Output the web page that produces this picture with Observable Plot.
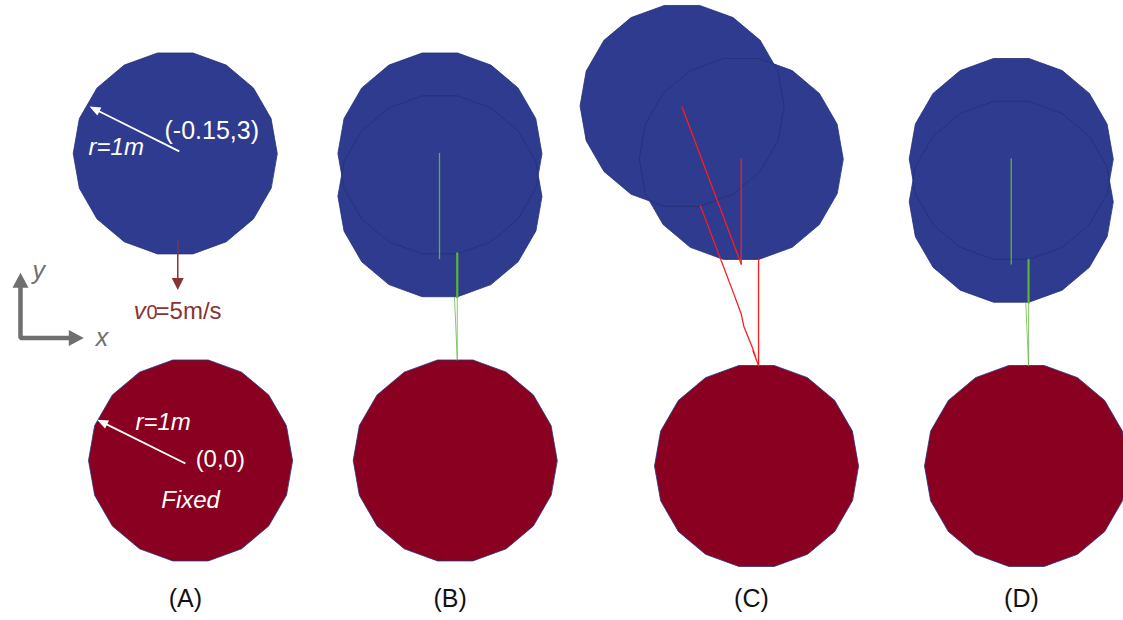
<!DOCTYPE html>
<html><head><meta charset="utf-8">
<script src="https://cdn.jsdelivr.net/npm/d3@7"></script>
<script src="https://cdn.jsdelivr.net/npm/@observablehq/plot@0.6"></script>
<style>html,body{margin:0;padding:0;background:#fff}#chart svg{display:block}</style>
</head><body><div id="chart"></div>
<script>
// ---------- DATA (metres) ----------
const panelLabels = ["(A)", "(B)", "(C)", "(D)"];
// centre of the fixed body of each panel, in layout metres
const panelOriginX = [1.863, 4.458, 7.412, 10.059];
const panelOriginY = [1.569, 1.569, 1.515, 1.515];
const bodyRadius = 1;          // r = 1 m
const polygonSides = 18;

// fixed (red) body centre in each panel
const fixedX = 0, fixedY = 0;

// moving (blue) body positions, metres, per panel
const movingPanel = [0, 1, 1, 2, 2, 3, 3];
const movingX = [-0.15, -0.15, -0.15, -0.73, -0.15, -0.15, -0.15];
const movingY = [3.01, 3.01, 2.59, 3.53, 3.01, 3.01, 2.59];

// traced paths (metres), panel index and kind
const tracePanel = [1, 1, 1, 1, 3, 3, 3, 3, 2, 2, 2, 2];
const traceKind  = ["g", "gBold", "gThin", "gThin", "g", "gBold", "gThin", "gThin", "r", "r", "r", "r"];
const traceX = [
  [-0.154, -0.154], [0.02, 0.02], [-0.007, 0.02], [0.02, 0.02],
  [-0.15, -0.15], [0.02, 0.02], [-0.007, 0.02], [0.02, 0.02],
  [-0.73, -0.15], [-0.15, -0.15], [0.02, 0.02],
  [-0.55, -0.22, -0.15, -0.125, -0.04, -0.01, -0.035, 0.02]
];
const traceY = [
  [3.01, 1.98], [2.03, 1.60], [1.60, 0.985], [1.60, 0.985],
  [3.01, 1.98], [2.02, 1.60], [1.60, 0.985], [1.60, 0.985],
  [3.52, 1.98], [3.01, 1.98], [2.03, 0.985],
  [2.55, 1.68, 1.49, 1.37, 1.16, 1.07, 1.13, 0.985]
];

// annotation arrows in panel (A), metres
const arrowName = ["radiusMoving", "radiusFixed", "velocity"];
const arrowX1 = [-0.11, -0.05, -0.125];
const arrowY1 = [3.03, -0.03, 2.17];
const arrowX2 = [-0.99, -0.915, -0.125];
const arrowY2 = [3.47, 0.40, 1.67];
// coordinate icon: y-tip, origin, x-tip
const axisIconX = [-1.667, -1.667, -1.046];
const axisIconY = [1.84, 1.20, 1.20];

// annotation texts in panel (A)
const noteText  = ["(-0.15,3)", "r=1m", "r=1m", "(0,0)", "Fixed", "y", "x", "v", "0", "=5m/s"];
const noteKind  = ["whiteWide", "whiteIt", "whiteIt", "white", "whiteIt", "axis", "axis", "velIt", "velSub", "vel"];
const noteX     = [-0.255, -1.0, -0.54, 0.05, -0.287, -1.55, -0.93, -0.556, -0.431, -0.343];
const noteY     = [3.147, 2.99, 0.294, -0.06, -0.47, 1.775, 1.127, 1.39, 1.39, 1.39];

// ---------- STYLE ----------
const PX = 102, W = 1123, H = 620;
const FONT = "'Liberation Sans', Arial, Helvetica, sans-serif";
const C = {blue: "#2e3b8e", red: "#8a0020", edge: "#25307a", green: "#5cb531", redLine: "#ff1c1c",
           white: "#ffffff", vel: "#8b3232", axis: "#6f6f6f", label: "#111111"};
const traceStyle = {
  g: {stroke: C.green, w: 1.3, o: 1}, gBold: {stroke: C.green, w: 2.2, o: 1},
  gThin: {stroke: C.green, w: 0.9, o: 0.8}, r: {stroke: C.redLine, w: 1.3, o: 1}
};
const arrowStyle = {
  radiusMoving: {stroke: C.white, w: 1.8, len: 11, wid: 9},
  radiusFixed: {stroke: C.white, w: 1.8, len: 11, wid: 9},
  velocity: {stroke: C.vel, w: 1.5, len: 12, wid: 12}
};
const noteStyle = {
  whiteWide: {fill: C.white, size: 25, style: "normal"},
  white: {fill: C.white, size: 24, style: "normal"},
  whiteIt: {fill: C.white, size: 24, style: "italic"},
  axis: {fill: C.axis, size: 25, style: "italic"},
  velIt: {fill: C.vel, size: 24, style: "italic"},
  velSub: {fill: C.vel, size: 20, style: "normal"},
  vel: {fill: C.vel, size: 24, style: "normal"}
};

// ---------- BUILD ----------
const L = (p, x, y) => ({X: panelOriginX[p] + x, Y: panelOriginY[p] + y});
function polygon(id, p, cx, cy, r) {
  return d3.range(polygonSides).map(i => {
    const a = 2 * Math.PI * i / polygonSides;
    return {id, ...L(p, cx + r * Math.cos(a), cy + r * Math.sin(a))};
  });
}
const movingVerts = movingPanel.flatMap((p, i) => polygon("m" + i, p, movingX[i], movingY[i], bodyRadius));
const fixedVerts = panelLabels.flatMap((_, p) => polygon("f" + p, p, fixedX, fixedY, bodyRadius));

function headPts(id, x1, y1, x2, y2, len, wid) {
  const dx = x2 - x1, dy = y2 - y1, d = Math.hypot(dx, dy), ux = dx / d, uy = dy / d;
  const l = len / PX, w = wid / 2 / PX;
  const bx = x2 - ux * l, by = y2 - uy * l;
  return {tri: [{id, X: x2, Y: y2}, {id, X: bx - uy * w, Y: by + ux * w}, {id, X: bx + uy * w, Y: by - ux * w}],
          base: {X: bx + ux * 1 / PX, Y: by + uy * 1 / PX}};
}

const marks = [];
marks.push(Plot.line(movingVerts, {x: "X", y: "Y", z: "id", fill: C.blue, stroke: "none", curve: "linear-closed"}));
marks.push(Plot.line(fixedVerts, {x: "X", y: "Y", z: "id", fill: C.red, stroke: "none", curve: "linear-closed"}));
marks.push(Plot.line(movingVerts.concat(fixedVerts), {x: "X", y: "Y", z: "id", fill: "none", stroke: C.edge, strokeWidth: 0.8, curve: "linear-closed"}));

traceX.forEach((xs, i) => {
  const s = traceStyle[traceKind[i]];
  const pts = xs.map((x, j) => L(tracePanel[i], x, traceY[i][j]));
  marks.push(Plot.line(pts, {x: "X", y: "Y", stroke: s.stroke, strokeWidth: s.w, strokeOpacity: s.o}));
});

arrowName.forEach((n, i) => {
  const s = arrowStyle[n];
  const a = L(0, arrowX1[i], arrowY1[i]), b = L(0, arrowX2[i], arrowY2[i]);
  const h = headPts(n, a.X, a.Y, b.X, b.Y, s.len, s.wid);
  marks.push(Plot.link([{x1: a.X, y1: a.Y, x2: h.base.X, y2: h.base.Y}], {x1: "x1", y1: "y1", x2: "x2", y2: "y2", stroke: s.stroke, strokeWidth: s.w}));
  marks.push(Plot.line(h.tri, {x: "X", y: "Y", fill: s.stroke, stroke: "none", curve: "linear-closed"}));
});

// coordinate icon
{
  const P = axisIconX.map((x, i) => L(0, x, axisIconY[i]));
  const hy = headPts("ay", P[1].X, P[1].Y, P[0].X, P[0].Y, 15, 16);
  const hx = headPts("ax", P[1].X, P[1].Y, P[2].X, P[2].Y, 15, 16);
  marks.push(Plot.line([hy.base, P[1], hx.base], {x: "X", y: "Y", stroke: C.axis, strokeWidth: 4.5, strokeLinejoin: "miter"}));
  marks.push(Plot.line(hy.tri, {x: "X", y: "Y", fill: C.axis, stroke: "none", curve: "linear-closed"}));
  marks.push(Plot.line(hx.tri, {x: "X", y: "Y", fill: C.axis, stroke: "none", curve: "linear-closed"}));
}

noteText.forEach((t, i) => {
  const s = noteStyle[noteKind[i]];
  const p = L(0, noteX[i], noteY[i]);
  marks.push(Plot.text([{...p, t}], {x: "X", y: "Y", text: "t", textAnchor: "start", lineAnchor: "bottom",
    fill: s.fill, fontSize: s.size, fontStyle: s.style, fontFamily: FONT}));
});

marks.push(Plot.text(panelLabels.map((t, p) => ({t, X: panelOriginX[p] - 0.05, Y: 0.13})),
  {x: "X", y: "Y", text: "t", textAnchor: "middle", lineAnchor: "bottom", fill: C.label, fontSize: 25, fontFamily: FONT}));

const chart = Plot.plot({
  width: W, height: H, margin: 0,
  x: {domain: [0, W / PX], range: [0, W], axis: null},
  y: {domain: [0, H / PX], range: [H, 0], axis: null},
  style: {background: "#fff", fontFamily: FONT},
  marks
});
document.getElementById("chart").append(chart);
</script>
</body></html>
